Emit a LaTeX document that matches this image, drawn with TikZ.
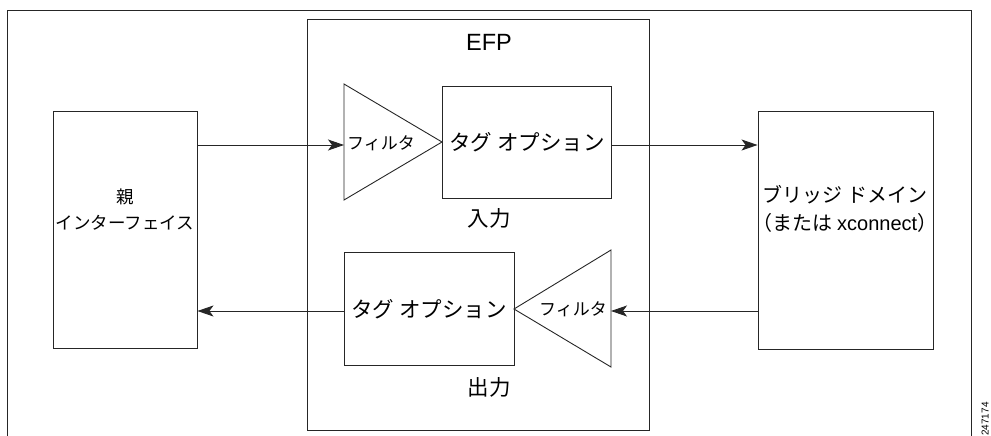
\documentclass[tikz,border=0pt]{standalone}
\usepackage{fontspec}
\setmainfont{Liberation Sans}
\newfontfamily\jp{Noto Sans CJK JP}
\usetikzlibrary{arrows.meta}
\begin{document}
\begin{tikzpicture}[x=1pt,y=-1pt,
  line/.style={draw=black!85,line width=0.9pt},
  box/.style={line,rectangle,inner sep=0pt},
  arr/.style={line,-{Stealth[length=16pt,width=11pt,inset=4pt]}},
  lbl/.style={inner sep=0pt,font=\jp\fontsize{21.5}{24}\selectfont},
  flt/.style={inner sep=0pt,font=\jp\fontsize{17}{20}\selectfont}]
\useasboundingbox (0,0) rectangle (991,436);
% outer frame (open at bottom)
\draw[line] (7,436) -- (7,10) -- (971,10) -- (971,436);
% EFP box
\node[box,minimum width=342pt,minimum height=411pt] (efp) at (478,224.5) {};
\node[inner sep=0pt,font=\fontsize{23.5}{26}\selectfont] (efpl) at (489,42.5) {EFP};
% parent interface
\node[box,minimum width=144pt,minimum height=237pt] (par) at (125,229.5) {};
\node[inner sep=0pt,align=center,font=\jp\fontsize{17.5}{26}\selectfont] (parl) at (125,210) {親\\インターフェイス};
% bridge domain
\node[box,minimum width=175pt,minimum height=238pt] (br) at (845.5,230) {};
\node[inner sep=0pt,align=center,font=\jp\fontsize{20}{28}\selectfont] (brl) at (845,209) {ブリッジ ドメイン\\（または {\fontspec{Liberation Sans}xconnect}）};
% ingress: filter triangle + tag box
\coordinate (t1a) at (344,84);
\coordinate (t1b) at (344,200);
\coordinate (t1c) at (442,142);
\draw[line] (t1a) -- (t1c) -- (t1b) -- cycle;
\node[flt] (f1) at (381,143) {フィルタ};
\node[box,minimum width=169pt,minimum height=112pt] (tag1) at (526.5,142) {};
\node[lbl] (tag1l) at (527,142) {タグ オプション};
\node[lbl] (in) at (489,218) {入力};
% egress: tag box + filter triangle
\node[box,minimum width=170pt,minimum height=113pt] (tag2) at (429,308.5) {};
\node[lbl] (tag2l) at (429,309) {タグ オプション};
\coordinate (t2a) at (611,250);
\coordinate (t2b) at (611,367);
\coordinate (t2c) at (514,309);
\draw[line] (t2a) -- (t2c) -- (t2b) -- cycle;
\node[flt] (f2) at (573,309) {フィルタ};
\node[lbl] (out) at (489,387) {出力};
% connectors
\coordinate (pin) at (par.east |- 0,145);
\coordinate (fin) at (344,145);
\draw[arr] (pin) -- (fin);
\coordinate (tout) at (tag1.east |- 0,145);
\coordinate (bin) at (br.west |- 0,145);
\draw[arr] (tout) -- (bin);
\coordinate (bout) at (br.west |- 0,311);
\coordinate (fout) at (611,311);
\draw[arr] (bout) -- (fout);
\coordinate (tg2) at (tag2.west |- 0,311);
\coordinate (pout) at (par.east |- 0,311);
\draw[arr] (tg2) -- (pout);
% figure number
\node[inner sep=0pt,rotate=90,font=\fontsize{10}{11}\selectfont] (fig) at (985,419) {247174};
\end{tikzpicture}
\end{document}
